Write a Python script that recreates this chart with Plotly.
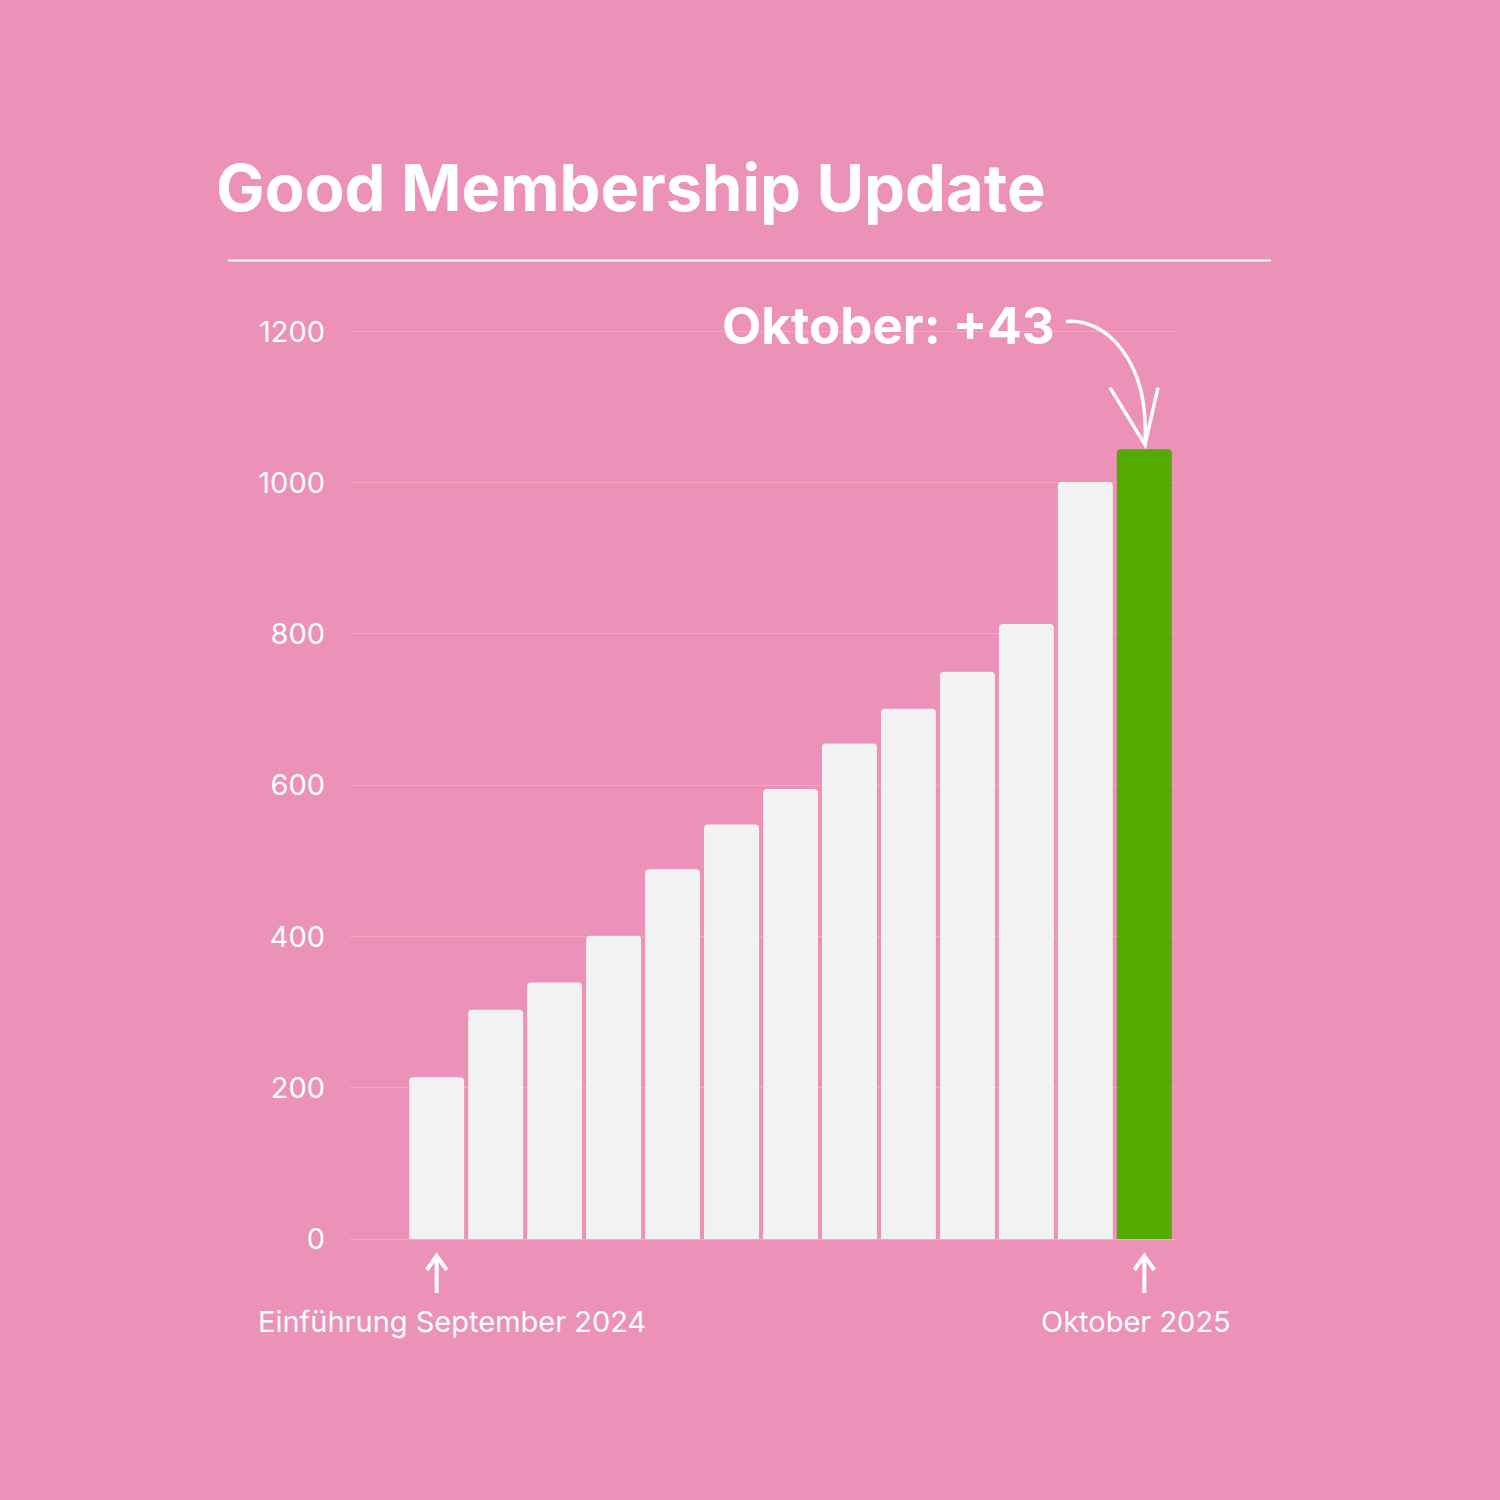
import plotly.graph_objects as go

# Data
months = ["Sep 2024", "Okt 2024", "Nov 2024", "Dez 2024", "Jan 2025", "Feb 2025", "Mär 2025",
          "Apr 2025", "Mai 2025", "Jun 2025", "Jul 2025", "Sep 2025", "Okt 2025"]
members = [214, 303, 339, 401, 489, 548, 595, 655, 701, 750, 813, 1001, 1044]
y_ticks = [0, 200, 400, 600, 800, 1000, 1200]
title_text = "Good Membership Update"
callout_text = "Oktober: +43"
start_label = "Einführung September 2024"
end_label = "Oktober 2025"

BG = "#EC91B8"
WHITE_BAR = "#F2F2F2"
GREEN = "#55AA00"
GRID = "#F2A8C6"
FONT = "Inter"

W, H = 1500, 1500
L, R = 350, 1175          # plot area pixel x
T, B = 286.4, 1239        # plot area pixel y

def px(xp):
    return (xp - L) / (R - L)

def py(yp):
    return (B - yp) / (B - T)

xs = list(range(len(months)))
colors = [WHITE_BAR] * (len(months) - 1) + [GREEN]

fig = go.Figure(go.Bar(
    x=xs, y=members, marker=dict(color=colors, line=dict(width=0)),
    width=0.932, hoverinfo="skip", customdata=months,
))

fig.update_layout(
    width=W, height=H,
    paper_bgcolor=BG, plot_bgcolor=BG,
    margin=dict(l=L, r=W - R, t=T, b=H - B, pad=0),
    showlegend=False,
    barcornerradius=4,
    font=dict(family=FONT, color="white"),
    xaxis=dict(range=[-1.47, 12.52], showgrid=False, zeroline=False,
               showticklabels=False, ticks="", showline=False, fixedrange=True),
    yaxis=dict(range=[0, 1260], tickvals=y_ticks, showgrid=True, gridcolor=GRID,
               gridwidth=1, zeroline=True, zerolinecolor=GRID, zerolinewidth=1,
               showline=False, ticks="", ticklabelstandoff=24,
               tickfont=dict(family=FONT, size=29, color="white"), fixedrange=True),
)

ann = []
# Title
ann.append(dict(text="<b>" + title_text + "</b>", xref="paper", yref="paper",
                x=px(214), y=py(188), xanchor="left", yanchor="middle", showarrow=False,
                font=dict(family=FONT, size=65, color="white")))
# Callout
ann.append(dict(text="<b>" + callout_text + "</b>", xref="paper", yref="paper",
                x=px(888), y=py(326), xanchor="center", yanchor="middle", showarrow=False,
                font=dict(family=FONT, size=51, color="white")))
# Bottom labels
ann.append(dict(text=start_label, xref="paper", yref="paper",
                x=px(452), y=py(1321), xanchor="center", yanchor="middle", showarrow=False,
                font=dict(family=FONT, size=29, color="white")))
ann.append(dict(text=end_label, xref="paper", yref="paper",
                x=px(1136), y=py(1321), xanchor="center", yanchor="middle", showarrow=False,
                font=dict(family=FONT, size=29, color="white")))
fig.update_layout(annotations=ann)

shapes = []
# Divider line under title
shapes.append(dict(type="line", xref="paper", yref="paper",
                   x0=px(228), x1=px(1271), y0=py(261), y1=py(261),
                   line=dict(color="white", width=2)))

# Curved arrow to last bar
def P(x, y):
    return f"{px(x)},{py(y)}"

curve = f"M {P(1066,322)} C {P(1105,318)} {P(1150,360)} {P(1145,445)}"
shapes.append(dict(type="path", xref="paper", yref="paper", path=curve,
                   line=dict(color="white", width=3.5)))
head = f"M {P(1110,388)} L {P(1145,445)} L {P(1158,388)}"
shapes.append(dict(type="path", xref="paper", yref="paper", path=head,
                   line=dict(color="white", width=3.5)))

# Small up arrows under first and last bar
for xi in [xs[0], xs[-1]]:
    shapes.append(dict(type="line", xref="x", yref="paper", x0=xi, x1=xi,
                       y0=py(1293), y1=py(1257), line=dict(color="white", width=4)))
    shapes.append(dict(type="path", xref="x", yref="paper",
                       path=f"M {xi-0.17},{py(1270)} L {xi},{py(1256)} L {xi+0.17},{py(1270)}",
                       line=dict(color="white", width=4)))
fig.update_layout(shapes=shapes)

fig.write_html("out.html", config={"displayModeBar": False},
               post_script="document.body.style.margin='0';")
